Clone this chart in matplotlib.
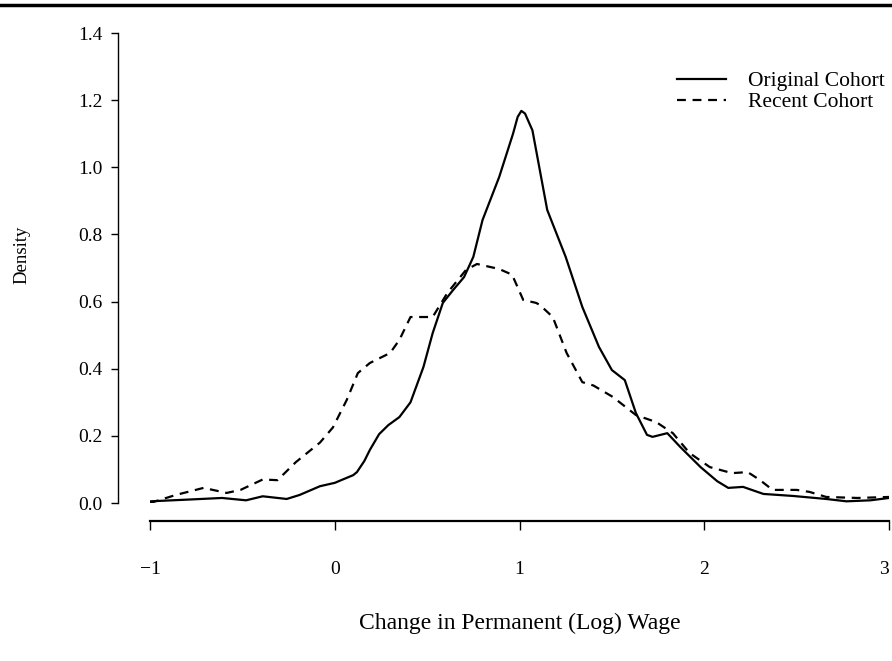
import matplotlib
matplotlib.use("Agg")
import matplotlib.pyplot as plt
from matplotlib.lines import Line2D

plt.rcParams['font.family'] = ['Liberation Serif', 'DejaVu Serif']

# Original cohort density (solid)
orig_x = [-1.0, -0.8, -0.61, -0.48, -0.39, -0.26, -0.19, -0.08, 0.0, 0.10, 0.12, 0.16,
          0.19, 0.24, 0.29, 0.35, 0.41, 0.48, 0.53, 0.585, 0.64, 0.70, 0.75, 0.80,
          0.89, 0.965, 0.99, 1.01, 1.03, 1.07, 1.15, 1.25, 1.34, 1.43, 1.50, 1.57,
          1.63, 1.69, 1.72, 1.80, 1.87, 1.98, 2.07, 2.13, 2.21, 2.32, 2.48, 2.66,
          2.77, 2.9, 3.0]
orig_y = [0.005, 0.01, 0.015, 0.008, 0.02, 0.012, 0.024, 0.05, 0.06, 0.083, 0.092, 0.125,
          0.158, 0.205, 0.232, 0.256, 0.30, 0.405, 0.506, 0.596, 0.634, 0.673, 0.733, 0.843,
          0.971, 1.10, 1.15, 1.168, 1.16, 1.11, 0.873, 0.733, 0.584, 0.465, 0.396, 0.366,
          0.268, 0.203, 0.197, 0.208, 0.167, 0.107, 0.065, 0.045, 0.048, 0.027, 0.021, 0.012,
          0.005, 0.008, 0.015]

# Recent cohort density (dashed)
recent_x = [-1.0, -0.86, -0.71, -0.585, -0.51, -0.39, -0.31, -0.21, -0.08, -0.01, 0.065,
            0.125, 0.19, 0.30, 0.35, 0.41, 0.53, 0.61, 0.71, 0.77, 0.89, 0.96, 1.02, 1.09,
            1.11, 1.18, 1.255, 1.34, 1.40, 1.505, 1.63, 1.74, 1.83, 1.92, 2.03, 2.15,
            2.235, 2.30, 2.37, 2.50, 2.57, 2.66, 2.83, 3.0]
recent_y = [0.0, 0.024, 0.045, 0.03, 0.039, 0.07, 0.068, 0.122, 0.18, 0.225, 0.307,
            0.387, 0.417, 0.447, 0.486, 0.554, 0.554, 0.626, 0.694, 0.712, 0.697, 0.68, 0.605, 0.596,
            0.59, 0.554, 0.447, 0.36, 0.35, 0.316, 0.262, 0.241, 0.208, 0.149, 0.107, 0.089,
            0.092, 0.069, 0.039, 0.039, 0.033, 0.018, 0.015, 0.018]

x_ticks = [-1, 0, 1, 2, 3]
x_labels = ["\u22121", "0", "1", "2", "3"]
y_ticks = [0.0, 0.2, 0.4, 0.6, 0.8, 1.0, 1.2, 1.4]
y_labels = ["0.0", "0.2", "0.4", "0.6", "0.8", "1.0", "1.2", "1.4"]

fig = plt.figure(figsize=(8.92, 6.61), dpi=100)
ax = fig.add_axes([150 / 892, 1 - 503 / 661, (889 - 150) / 892, (503 - 33) / 661])

ax.plot(orig_x, orig_y, color="black", lw=1.6, label="Original Cohort")
ax.plot(recent_x, recent_y, color="black", lw=1.6, dashes=(4, 3), label="Recent Cohort")

ax.set_xlim(-1, 3)
ax.set_ylim(0, 1.4)

for side in ("top", "right"):
    ax.spines[side].set_visible(False)
ax.spines["left"].set_position(("outward", 23))
ax.spines["bottom"].set_position(("outward", 13))
ax.spines["left"].set_bounds(0, 1.4)
ax.spines["bottom"].set_bounds(-1, 3)
ax.spines["left"].set_linewidth(1.0)
ax.spines["bottom"].set_linewidth(1.6)

ax.set_xticks(x_ticks)
ax.set_xticklabels(x_labels)
ax.set_yticks(y_ticks)
ax.set_yticklabels(y_labels)
ax.tick_params(axis="x", direction="out", length=6.5, width=1.0, pad=22, labelsize=14)
ax.tick_params(axis="y", direction="out", length=5, width=1.0, pad=6, labelsize=14)
# last label sits on the page edge, keep it inside
ax.get_xticklabels()[-1].set_horizontalalignment("right")

fig.text(520 / 892, 1 - 623 / 661, "Change in Permanent (Log) Wage", ha="center", va="center",
         fontsize=17)
fig.text(22 / 892, 1 - 255 / 661, "Density", ha="center", va="center", rotation=90,
         fontsize=13.5)

leg = ax.legend(loc="upper right", bbox_to_anchor=(1.02, 0.96), frameon=False, fontsize=15.5,
                handlelength=2.3, handletextpad=1.0, labelspacing=0.05)

# top rule across the page
fig.add_artist(Line2D([0, 1], [1 - 5 / 661, 1 - 5 / 661], transform=fig.transFigure,
                      color="black", lw=2.5))

fig.savefig("out.png", dpi=100)
